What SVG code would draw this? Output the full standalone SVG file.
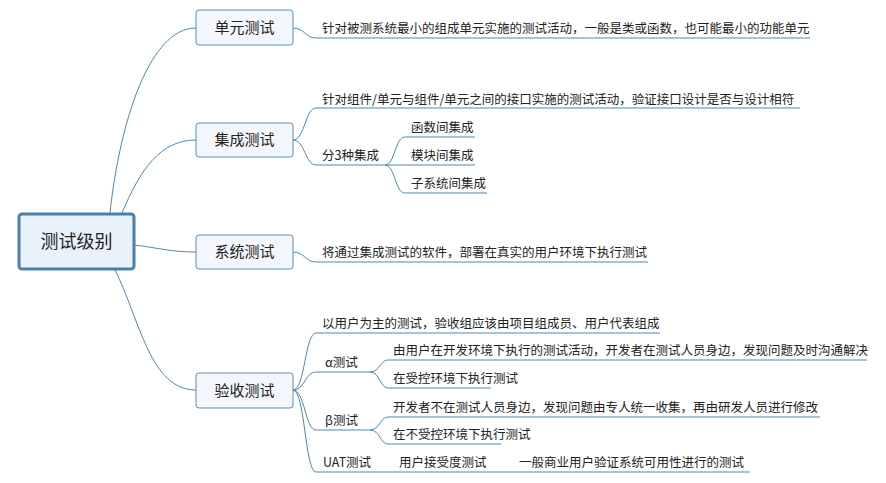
<svg xmlns="http://www.w3.org/2000/svg" width="886" height="483" viewBox="0 0 886 483">
<style>
text{font-family:"Noto Sans CJK SC","Liberation Sans",sans-serif;fill:#222}
.t{font-size:12.5px}
.n{font-size:15px;text-anchor:middle}
.box{fill:#f3f7fc;stroke:#5b8fbd;stroke-width:1}
.c path{fill:none;stroke:#4f87b8;stroke-width:1}
</style>
<rect width="886" height="483" fill="#fff"/>
<g class="c">
<path d="M110,213 C120,120 150,28 196,28"/>
<path d="M122,213 C140,170 160,140 196,140"/>
<path d="M134,245 C160,248 170,252 196,252"/>
<path d="M115,270 C140,320 150,390 196,390"/>
<path d="M293,28 C305,28 305,38 316,38 L810,38"/>
<path d="M293,140 C305,140 305,108 316,108 L800,108"/>
<path d="M293,140 C305,140 305,165 316,165 L385,165"/>
<path d="M385,165 C395,165 395,137 405,137 L475,137"/>
<path d="M385,165 L475,165"/>
<path d="M385,165 C395,165 395,193 405,193 L487,193"/>
<path d="M293,252 C305,252 305,262 316,262 L648,262"/>
<path d="M293,390 C305,390 305,333 316,333 L660,333"/>
<path d="M293,390 C305,390 305,372 316,372 L370,372 C380,372 380,360 388,360 L867,360"/>
<path d="M370,372 C380,372 380,388 388,388 L491,388"/>
<path d="M293,390 C305,390 305,430 316,430 L370,430 C380,430 380,417 388,417 L820,417"/>
<path d="M370,430 C380,430 380,444 388,444 L501,444"/>
<path d="M293,390 C305,390 305,472 316,472 L750,472"/>
</g>
<g id="root"><rect x="19" y="214" width="115" height="55" rx="3" fill="#e9f1fb" stroke="#4a7fae" stroke-width="3"/><text x="76.5" y="248" style="font-size:18px;text-anchor:middle">测试级别</text></g>
<g id="n1"><rect class="box" x="196" y="10" width="97" height="35" rx="3"/><text class="n" x="244.5" y="33">单元测试</text></g>
<g id="n2"><rect class="box" x="196" y="123" width="97" height="34" rx="3"/><text class="n" x="244.5" y="145">集成测试</text></g>
<g id="n3"><rect class="box" x="196" y="235" width="97" height="34" rx="3"/><text class="n" x="244.5" y="257">系统测试</text></g>
<g id="n4"><rect class="box" x="196" y="373" width="97" height="35" rx="3"/><text class="n" x="244.5" y="396">验收测试</text></g>
<g id="texts">
<text class="t" x="322" y="33">针对被测系统最小的组成单元实施的测试活动，一般是类或函数，也可能最小的功能单元</text>
<text class="t" x="322" y="104">针对组件/单元与组件/单元之间的接口实施的测试活动，验证接口设计是否与设计相符</text>
<text class="t" x="322" y="160">分3种集成</text>
<text class="t" x="411" y="132">函数间集成</text>
<text class="t" x="411" y="160">模块间集成</text>
<text class="t" x="411" y="188">子系统间集成</text>
<text class="t" x="322" y="257">将通过集成测试的软件，部署在真实的用户环境下执行测试</text>
<text class="t" x="322" y="328">以用户为主的测试，验收组应该由项目组成员、用户代表组成</text>
<text class="t" x="325" y="367">α测试</text>
<text class="t" x="393" y="355">由用户在开发环境下执行的测试活动，开发者在测试人员身边，发现问题及时沟通解决</text>
<text class="t" x="393" y="383">在受控环境下执行测试</text>
<text class="t" x="325" y="425">β测试</text>
<text class="t" x="393" y="412">开发者不在测试人员身边，发现问题由专人统一收集，再由研发人员进行修改</text>
<text class="t" x="393" y="439">在不受控环境下执行测试</text>
<text class="t" x="323" y="467">UAT测试</text>
<text class="t" x="399" y="467">用户接受度测试</text>
<text class="t" x="519" y="467">一般商业用户验证系统可用性进行的测试</text>
</g>
</svg>
